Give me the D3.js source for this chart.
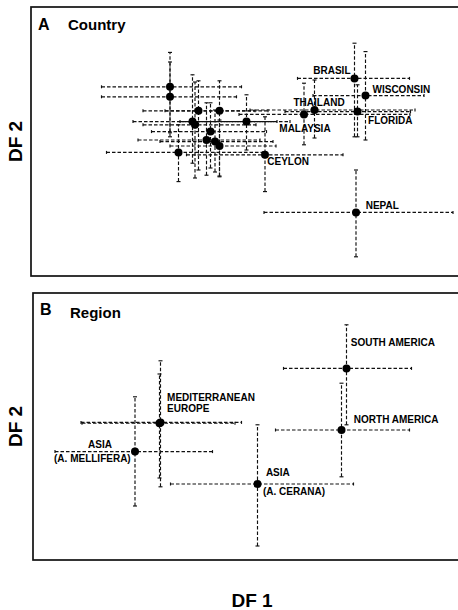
<!DOCTYPE html>
<html><head><meta charset="utf-8">
<script src="https://cdn.jsdelivr.net/npm/d3@7"></script>
<style>body{margin:0;background:#fff}svg{display:block}</style>
</head><body>
<svg id="chart" width="458" height="610"></svg>
<script>
// ---- Panel A: Country (DF units) ----
const countryLabels = ["","","","","","","","","","","","","CEYLON","MALAYSIA","THAILAND","BRASIL","WISCONSIN","FLORIDA","NEPAL"];
const countryDF1    = [-0.22,-0.22,0.35,0.77,0.23,0.28,1.31,0.59,0.51,0.68,0.77,-0.05,1.68,2.46,2.67,3.47,3.69,3.53,3.50];
const countryDF2    = [1.73,1.48,1.13,1.13,0.86,0.78,0.86,0.61,0.40,0.36,0.25,0.09,0.03,1.04,1.15,1.94,1.51,1.11,-1.41];
const countryDF1Lo  = [-1.59,-1.59,-0.76,-0.32,-0.96,-0.76,-0.02,-0.59,-0.86,-0.42,-0.22,-1.49,0.11,1.16,1.38,2.33,2.64,2.08,1.66];
const countryDF1Hi  = [1.21,1.11,1.48,1.74,1.92,1.50,2.18,1.71,1.58,1.84,1.90,1.64,3.24,4.58,4.68,4.57,4.86,4.59,5.44];
const countryDF2Lo  = [0.48,0.58,-0.35,-0.52,-0.18,-0.55,0.15,-0.30,-0.48,-0.40,-0.50,-0.64,-0.89,0.28,0.45,0.48,0.40,0.48,-2.52];
const countryDF2Hi  = [2.59,2.35,1.88,1.88,2.03,1.85,1.53,1.33,1.33,1.15,0.90,0.78,0.98,1.82,1.90,2.82,2.61,1.78,-0.35];

// ---- Panel B: Region (DF units) ----
const regionLabels = ["SOUTH AMERICA","NORTH AMERICA","MEDITERRANEAN|EUROPE","","ASIA|(A. MELLIFERA)","ASIA|(A. CERANA)"];
const regionDF1    = [3.27,3.17,-0.45,-0.47,-0.96,1.49];
const regionDF2    = [1.79,0.25,0.44,0.42,-0.29,-1.10];
const regionDF1Lo  = [2.01,1.85,-2.04,-2.02,-2.56,-0.25];
const regionDF1Hi  = [4.57,4.53,1.17,1.04,0.59,3.41];
const regionDF2Lo  = [0.38,-0.92,-1.17,-0.95,-1.65,-2.65];
const regionDF2Hi  = [2.88,1.42,1.98,1.65,1.08,0.38];

// ---- axis titles ----
const axisTitles = {x: "DF 1", y: "DF 2"};
const panelTitles = [{letter: "A", name: "Country"}, {letter: "B", name: "Region"}];

// label layout (pixel offsets from the point, per line)
const labelLayout = {
  "BRASIL": [{dx:-4, dy:-4, a:"end"}],
  "WISCONSIN": [{dx:7, dy:-2.7, a:"start"}],
  "THAILAND": [{dx:-21, dy:-4, a:"start"}],
  "MALAYSIA": [{dx:-24.7, dy:17.7, a:"start"}],
  "FLORIDA": [{dx:10.6, dy:12.6, a:"start"}],
  "CEYLON": [{dx:2.3, dy:10, a:"start"}],
  "NEPAL": [{dx:9.7, dy:-3.3, a:"start"}],
  "SOUTH AMERICA": [{dx:4.3, dy:-22.3, a:"start"}],
  "NORTH AMERICA": [{dx:12.3, dy:-7.3, a:"start"}],
  "MEDITERRANEAN|EUROPE": [{dx:6.6, dy:-21.6, a:"start"}, {dx:6.6, dy:-10.3, a:"start"}],
  "ASIA|(A. MELLIFERA)": [{dx:-35, dy:-3.4, a:"middle"}, {dx:-4.3, dy:10.5, a:"end"}],
  "ASIA|(A. CERANA)": [{dx:8.4, dy:-8, a:"start"}, {dx:5.4, dy:11, a:"start"}]
};

const svg = d3.select("#chart");
const FONT = "'Liberation Sans', Arial, Helvetica, sans-serif";

function toRows(labels, x, y, xlo, xhi, ylo, yhi) {
  return labels.map((l, i) => ({label: l, x: x[i], y: y[i], xlo: xlo[i], xhi: xhi[i], ylo: ylo[i], yhi: yhi[i]}));
}

function drawPanel(rows, box, xDomain, yDomain, title) {
  const g = svg.append("g");
  const xs = d3.scaleLinear().domain(xDomain).range([box.left, box.right]);
  const ys = d3.scaleLinear().domain(yDomain).range([box.bottom, box.top]);

  g.append("rect").attr("x", box.left).attr("y", box.top)
    .attr("width", box.right + 4 - box.left).attr("height", box.bottom - box.top)
    .attr("fill", "none").attr("stroke", "#111").attr("stroke-width", 1.7);

  const eb = g.append("g").attr("stroke", "#111").attr("stroke-width", 1.15)
    .attr("fill", "none");
  const dash = "3.5,2";
  rows.forEach(d => {
    const cx = xs(d.x), cy = ys(d.y);
    eb.append("line").attr("x1", xs(d.xlo)).attr("x2", xs(d.xhi)).attr("y1", cy).attr("y2", cy)
      .attr("stroke-dasharray", dash);
    eb.append("line").attr("x1", cx).attr("x2", cx).attr("y1", ys(d.ylo)).attr("y2", ys(d.yhi))
      .attr("stroke-dasharray", dash);
    // caps
    [xs(d.xlo), xs(d.xhi)].forEach(px => eb.append("line").attr("x1", px).attr("x2", px)
      .attr("y1", cy - 1.5).attr("y2", cy + 1.5));
    [ys(d.ylo), ys(d.yhi)].forEach(py => eb.append("line").attr("x1", cx - 2).attr("x2", cx + 2)
      .attr("y1", py).attr("y2", py));
  });

  g.append("g").selectAll("circle").data(rows).join("circle")
    .attr("cx", d => xs(d.x)).attr("cy", d => ys(d.y)).attr("r", 4).attr("fill", "#000");

  const lab = g.append("g").attr("font-family", FONT).attr("font-weight", "bold")
    .attr("font-size", 10).attr("fill", "#000");
  rows.filter(d => d.label).forEach(d => {
    const lines = d.label.split("|");
    const lay = labelLayout[d.label];
    lines.forEach((t, i) => {
      lab.append("text").attr("x", xs(d.x) + lay[i].dx).attr("y", ys(d.y) + lay[i].dy)
        .attr("text-anchor", lay[i].a).text(t);
    });
  });

  // panel letter and name
  g.append("text").attr("x", box.left + 7).attr("y", box.top + title.dy)
    .attr("font-family", FONT).attr("font-weight", "bold").attr("font-size", 16).text(title.letter);
  g.append("text").attr("x", box.left + 37).attr("y", box.top + title.dy + title.nameShift)
    .attr("font-family", FONT).attr("font-weight", "bold").attr("font-size", 15).text(title.name);

  // y-axis title
  g.append("text").attr("transform", `translate(${title.yLabelX},${(box.top + box.bottom) / 2}) rotate(-90)`)
    .attr("text-anchor", "middle").attr("dy", "0.35em")
    .attr("font-family", FONT).attr("font-weight", "bold").attr("font-size", 19).text(axisTitles.y);
}

drawPanel(toRows(countryLabels, countryDF1, countryDF2, countryDF1Lo, countryDF1Hi, countryDF2Lo, countryDF2Hi),
  {left: 31, right: 456, top: 7, bottom: 276}, [-3, 5.5], [-3, 3.725],
  Object.assign({}, panelTitles[0], {dy: 23, nameShift: 0, yLabelX: 15}));

drawPanel(toRows(regionLabels, regionDF1, regionDF2, regionDF1Lo, regionDF1Hi, regionDF2Lo, regionDF2Hi),
  {left: 33, right: 457, top: 293, bottom: 560}, [-3, 5.48], [-3, 3.675],
  Object.assign({}, panelTitles[1], {dy: 22, nameShift: 3, yLabelX: 15}));

svg.append("text").attr("x", 252).attr("y", 607).attr("text-anchor", "middle")
  .attr("font-family", FONT).attr("font-weight", "bold").attr("font-size", 19).text(axisTitles.x);
</script>
</body></html>
